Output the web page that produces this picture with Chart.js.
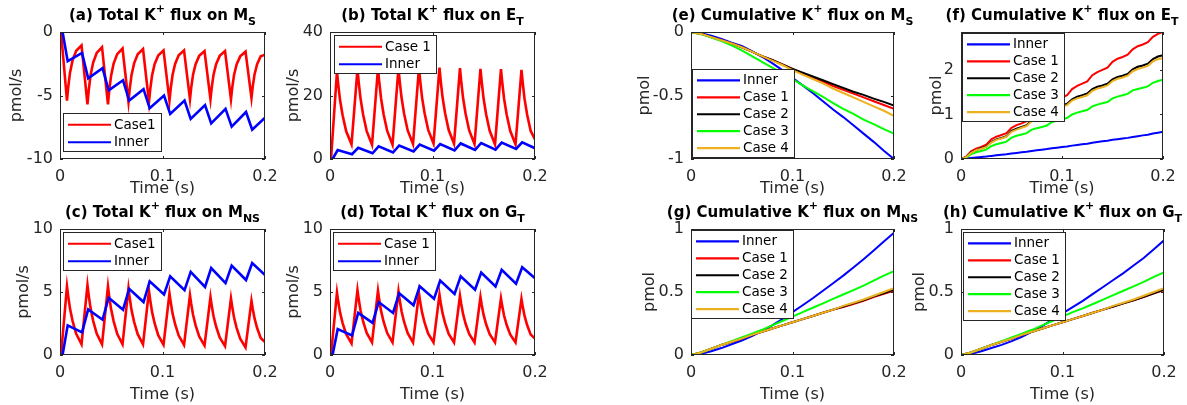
<!DOCTYPE html>
<html>
<head>
<meta charset="utf-8">
<script src="https://cdn.jsdelivr.net/npm/chart.js@4.4.1/dist/chart.umd.min.js"></script>
<style>
  body { margin: 0; background: #fff; }
  #fig { position: relative; width: 1187px; height: 405px; overflow: hidden; background: #fff; }
  #fig canvas { position: absolute; }
</style>
</head>
<body>
<div id="fig"></div>
<script>
// time bases (s)
var tSpike = [
  0, 0.001, 0.0068, 0.008, 0.0098, 0.0123, 0.0158,
  0.021, 0.0268, 0.028, 0.0298, 0.0323, 0.0358,
  0.041, 0.0468, 0.048, 0.0498, 0.0523, 0.0558,
  0.061, 0.0668, 0.068, 0.0698, 0.0723, 0.0758,
  0.081, 0.0868, 0.088, 0.0898, 0.0923, 0.0958,
  0.101, 0.1068, 0.108, 0.1098, 0.1123, 0.1158,
  0.121, 0.1268, 0.128, 0.1298, 0.1323, 0.1358,
  0.141, 0.1468, 0.148, 0.1498, 0.1523, 0.1558,
  0.161, 0.1668, 0.168, 0.1698, 0.1723, 0.1758,
  0.181, 0.1868, 0.188, 0.1898, 0.1923, 0.1958,
  0.2
];
var tSaw = [0, 0.0025, 0.0075, 0.0215, 0.0275, 0.0415, 0.0475, 0.0615, 0.0675, 0.0815, 0.0875,
  0.1015, 0.1075, 0.1215, 0.1275, 0.1415, 0.1475, 0.1615, 0.1675, 0.1815, 0.1875, 0.2];
var tCum = [0, 0.01, 0.02, 0.03, 0.04, 0.05, 0.06, 0.07, 0.08, 0.09, 0.1,
  0.11, 0.12, 0.13, 0.14, 0.15, 0.16, 0.17, 0.18, 0.19, 0.2];
var tCumFine = [0, 0.005, 0.01, 0.015, 0.02, 0.025, 0.03, 0.035, 0.04, 0.045, 0.05,
  0.055, 0.06, 0.065, 0.07, 0.075, 0.08, 0.085, 0.09, 0.095, 0.1,
  0.105, 0.11, 0.115, 0.12, 0.125, 0.13, 0.135, 0.14, 0.145, 0.15,
  0.155, 0.16, 0.165, 0.17, 0.175, 0.18, 0.185, 0.19, 0.195, 0.2];

// total flux (pmol/s)
var msCase1 = [
  0, 0, -5.4, -4.36, -3.18, -2.22, -1.48,
  -1.05, -5.7, -4.62, -3.41, -2.42, -1.65,
  -1.2, -5.7, -4.64, -3.46, -2.49, -1.74,
  -1.3, -5.5, -4.5, -3.38, -2.47, -1.76,
  -1.35, -5.5, -4.53, -3.43, -2.54, -1.85,
  -1.45, -5.4, -4.45, -3.39, -2.52, -1.84,
  -1.45, -5.3, -4.39, -3.36, -2.53, -1.88,
  -1.5, -5.3, -4.39, -3.36, -2.53, -1.88,
  -1.5, -5.3, -4.4, -3.39, -2.56, -1.92,
  -1.55, -5.2, -4.32, -3.34, -2.54, -1.91,
  -1.78
];
var msInner = [0, 0, -2.3, -1.65, -3.65, -2.85, -4.6, -3.8, -5.4, -4.5, -6.0, -5.0,
  -6.45, -5.4, -6.85, -5.75, -7.2, -6.05, -7.45, -6.3, -7.7, -6.75];

var etCase1 = [
  0, 0, 27.5, 23.61, 18.57, 13.76, 8.72,
  4.6, 28.3, 24.25, 19.02, 14.02, 8.78,
  4.5, 28.5, 24.42, 19.14, 14.1, 8.82,
  4.5, 28.6, 24.54, 19.28, 14.26, 9.0,
  4.7, 28.7, 24.65, 19.42, 14.42, 9.18,
  4.9, 28.8, 24.72, 19.44, 14.4, 9.12,
  4.8, 28.6, 24.54, 19.28, 14.26, 9.0,
  4.7, 28.4, 24.35, 19.12, 14.12, 8.88,
  4.6, 28.3, 24.27, 19.06, 14.08, 8.87,
  4.6, 28.1, 24.1, 18.93, 14.0, 8.83,
  6.2
];
var etInner = [0, 0, 2.8, 1.5, 3.5, 1.8, 4.0, 2.05, 4.25, 2.4, 4.55, 2.6,
  4.7, 2.7, 4.9, 2.85, 5.05, 2.95, 5.15, 3.15, 5.26, 3.4];

var nsCase1 = [
  0, 0, 5.45, 4.67, 3.66, 2.69, 1.68,
  0.85, 5.55, 4.75, 3.72, 2.73, 1.7,
  0.85, 5.45, 4.67, 3.66, 2.69, 1.68,
  0.85, 5.3, 4.54, 3.56, 2.63, 1.65,
  0.85, 5.1, 4.37, 3.42, 2.52, 1.57,
  0.8, 4.9, 4.2, 3.3, 2.44, 1.54,
  0.8, 4.75, 4.07, 3.19, 2.35, 1.47,
  0.75, 4.6, 3.94, 3.08, 2.26, 1.4,
  0.7, 4.5, 3.84, 2.98, 2.16, 1.3,
  0.6, 4.3, 3.69, 2.9, 2.14, 1.35,
  1.03
];
var nsInner = [0, 0, 2.35, 1.8, 3.62, 2.8, 4.55, 3.6, 5.25, 4.2, 5.85, 4.8,
  6.25, 5.15, 6.6, 5.4, 6.9, 5.7, 7.1, 5.95, 7.3, 6.35];

var gtCase1 = [
  0, 0, 4.95, 4.26, 3.38, 2.53, 1.65,
  0.92, 5.15, 4.44, 3.53, 2.66, 1.75,
  1.0, 5.1, 4.4, 3.5, 2.64, 1.74,
  1.0, 5.05, 4.36, 3.47, 2.62, 1.73,
  1.0, 4.9, 4.24, 3.38, 2.56, 1.7,
  1.0, 4.8, 4.15, 3.32, 2.52, 1.68,
  1.0, 4.7, 4.07, 3.26, 2.48, 1.67,
  1.0, 4.6, 3.99, 3.2, 2.44, 1.65,
  1.0, 4.5, 3.9, 3.13, 2.4, 1.63,
  1.0, 4.45, 3.86, 3.1, 2.38, 1.62,
  1.3
];
var gtInner = [0, 0, 2.05, 1.55, 3.34, 2.55, 4.2, 3.34, 4.9, 3.95, 5.45, 4.47,
  5.9, 4.84, 6.24, 5.18, 6.55, 5.45, 6.76, 5.66, 6.97, 6.1];

// cumulative flux (pmol)
var cumMsInner = [0, -0.01, -0.03, -0.055, -0.085, -0.11, -0.15, -0.195, -0.245, -0.3, -0.36,
  -0.42, -0.48, -0.545, -0.61, -0.67, -0.735, -0.8, -0.865, -0.935, -1.0];
var cumMsCase1 = [0, -0.015, -0.04, -0.065, -0.09, -0.12, -0.155, -0.19, -0.22, -0.255, -0.29,
  -0.325, -0.36, -0.39, -0.425, -0.455, -0.485, -0.515, -0.545, -0.575, -0.605];
var cumMsCase2 = [0, -0.015, -0.04, -0.065, -0.09, -0.12, -0.155, -0.19, -0.22, -0.255, -0.29,
  -0.32, -0.35, -0.38, -0.41, -0.44, -0.47, -0.495, -0.525, -0.55, -0.58];
var cumMsCase3 = [0, -0.017, -0.043, -0.072, -0.105, -0.145, -0.19, -0.235, -0.28, -0.325, -0.37,
  -0.42, -0.465, -0.51, -0.56, -0.605, -0.645, -0.69, -0.725, -0.765, -0.8];
var cumMsCase4 = [0, -0.015, -0.04, -0.065, -0.09, -0.12, -0.155, -0.19, -0.225, -0.26, -0.3,
  -0.335, -0.37, -0.405, -0.445, -0.48, -0.515, -0.55, -0.585, -0.62, -0.66];

var cumEtInner = [0, 0.009, 0.023, 0.034, 0.045, 0.055, 0.07, 0.082, 0.095, 0.106, 0.123,
  0.136, 0.15, 0.162, 0.18, 0.195, 0.21, 0.222, 0.24, 0.255, 0.27,
  0.282, 0.3, 0.315, 0.33, 0.344, 0.365, 0.383, 0.4, 0.412, 0.43,
  0.445, 0.46, 0.474, 0.495, 0.513, 0.53, 0.546, 0.57, 0.59, 0.61];
var cumEtCase1 = [0, 0.05, 0.17, 0.23, 0.27, 0.32, 0.44, 0.5, 0.54, 0.58, 0.7,
  0.76, 0.8, 0.85, 0.97, 1.04, 1.08, 1.13, 1.27, 1.34, 1.38,
  1.43, 1.57, 1.64, 1.69, 1.74, 1.88, 1.95, 2.0, 2.05, 2.18,
  2.25, 2.29, 2.34, 2.46, 2.53, 2.57, 2.62, 2.74, 2.81, 2.85];
var cumEtCase2 = [0, 0.04, 0.15, 0.2, 0.24, 0.28, 0.38, 0.44, 0.47, 0.51, 0.63,
  0.68, 0.72, 0.76, 0.87, 0.92, 0.96, 1.0, 1.11, 1.16, 1.2,
  1.24, 1.34, 1.4, 1.43, 1.47, 1.57, 1.62, 1.65, 1.69, 1.79,
  1.84, 1.87, 1.91, 2.01, 2.07, 2.1, 2.14, 2.24, 2.3, 2.33];
var cumEtCase3 = [0, 0.03, 0.11, 0.15, 0.18, 0.21, 0.29, 0.33, 0.36, 0.39, 0.48,
  0.52, 0.55, 0.58, 0.66, 0.69, 0.72, 0.75, 0.83, 0.86, 0.89,
  0.92, 1.0, 1.04, 1.07, 1.1, 1.18, 1.22, 1.25, 1.28, 1.36,
  1.4, 1.43, 1.46, 1.54, 1.57, 1.6, 1.63, 1.71, 1.75, 1.78];
var cumEtCase4 = [0, 0.04, 0.14, 0.2, 0.23, 0.27, 0.37, 0.43, 0.46, 0.5, 0.61,
  0.66, 0.7, 0.74, 0.85, 0.9, 0.94, 0.98, 1.08, 1.14, 1.17,
  1.21, 1.31, 1.36, 1.39, 1.43, 1.53, 1.58, 1.61, 1.65, 1.75,
  1.8, 1.83, 1.87, 1.97, 2.02, 2.05, 2.09, 2.19, 2.24, 2.27];

var cumNsInner = [0, 0.01, 0.03, 0.055, 0.085, 0.115, 0.15, 0.19, 0.235, 0.285, 0.34,
  0.395, 0.45, 0.51, 0.57, 0.63, 0.695, 0.76, 0.83, 0.9, 0.97];
var cumNsCase1 = [0, 0.02, 0.05, 0.08, 0.105, 0.13, 0.16, 0.185, 0.21, 0.235, 0.26,
  0.285, 0.31, 0.335, 0.36, 0.38, 0.405, 0.43, 0.46, 0.485, 0.51];
var cumNsCase2 = [0, 0.02, 0.05, 0.08, 0.105, 0.13, 0.16, 0.185, 0.21, 0.235, 0.26,
  0.285, 0.31, 0.335, 0.36, 0.385, 0.41, 0.435, 0.465, 0.49, 0.52];
var cumNsCase3 = [0, 0.02, 0.05, 0.08, 0.11, 0.14, 0.17, 0.2, 0.235, 0.27, 0.305,
  0.34, 0.375, 0.41, 0.445, 0.48, 0.515, 0.55, 0.59, 0.63, 0.665];
var cumNsCase4 = [0, 0.02, 0.05, 0.08, 0.105, 0.13, 0.16, 0.185, 0.21, 0.235, 0.26,
  0.285, 0.31, 0.335, 0.36, 0.39, 0.415, 0.44, 0.47, 0.5, 0.53];

var cumGtInner = [0, 0.01, 0.03, 0.055, 0.08, 0.11, 0.145, 0.185, 0.23, 0.28, 0.33,
  0.38, 0.43, 0.485, 0.54, 0.595, 0.65, 0.71, 0.77, 0.84, 0.91];
var cumGtCase1 = [0, 0.02, 0.05, 0.08, 0.105, 0.13, 0.16, 0.185, 0.21, 0.235, 0.26,
  0.285, 0.31, 0.335, 0.36, 0.385, 0.41, 0.435, 0.46, 0.49, 0.515];
var cumGtCase2 = [0, 0.02, 0.05, 0.08, 0.105, 0.13, 0.16, 0.185, 0.21, 0.235, 0.26,
  0.285, 0.31, 0.335, 0.36, 0.385, 0.41, 0.435, 0.462, 0.49, 0.52];
var cumGtCase3 = [0, 0.02, 0.05, 0.08, 0.11, 0.14, 0.17, 0.2, 0.235, 0.27, 0.305,
  0.34, 0.37, 0.405, 0.44, 0.475, 0.51, 0.545, 0.58, 0.62, 0.655];
var cumGtCase4 = [0, 0.02, 0.05, 0.08, 0.105, 0.13, 0.16, 0.185, 0.21, 0.235, 0.26,
  0.285, 0.31, 0.335, 0.36, 0.39, 0.415, 0.44, 0.47, 0.5, 0.53];

// tick labels
var timeTicks = [0, 0.1, 0.2];
var ticksMs = [-10, -5, 0];
var ticksEt = [0, 20, 40];
var ticksNs = [0, 5, 10];
var ticksGt = [0, 5, 10];
var ticksCumMs = [-1, -0.5, 0];
var ticksCumEt = [0, 1, 2];
var ticksCumNs = [0, 0.5, 1];
var ticksCumGt = [0, 0.5, 1];

// panel titles: [text, 0 normal | 1 superscript | -1 subscript]
var titleA = [['(a) Total K', 0], ['+', 1], [' flux on M', 0], ['S', -1]];
var titleB = [['(b) Total K', 0], ['+', 1], [' flux on E', 0], ['T', -1]];
var titleC = [['(c) Total K', 0], ['+', 1], [' flux on M', 0], ['NS', -1]];
var titleD = [['(d) Total K', 0], ['+', 1], [' flux on G', 0], ['T', -1]];
var titleE = [['(e) Cumulative K', 0], ['+', 1], [' flux on M', 0], ['S', -1]];
var titleF = [['(f) Cumulative K', 0], ['+', 1], [' flux on E', 0], ['T', -1]];
var titleG = [['(g) Cumulative K', 0], ['+', 1], [' flux on M', 0], ['NS', -1]];
var titleH = [['(h) Cumulative K', 0], ['+', 1], [' flux on G', 0], ['T', -1]];

var RED = '#ff0000', BLUE = '#0000ff', BLACK = '#000000', GREEN = '#00ff00', ORANGE = '#edb120';
var FONT = "'DejaVu Sans', sans-serif";
var AXIS = '#262626';
var TICK_PX = 16;
var PAD_RIGHT = 30;

function cumSeries(t, inner, c1, c2, c3, c4) {
  return [
    { label: 'Inner', color: BLUE, t: t, v: inner },
    { label: 'Case 1', color: RED, t: t, v: c1 },
    { label: 'Case 2', color: BLACK, t: t, v: c2 },
    { label: 'Case 3', color: GREEN, t: t, v: c3 },
    { label: 'Case 4', color: ORANGE, t: t, v: c4 }
  ];
}

var panels = [
  { area: [60, 32, 265, 159], yOff: 43, xH: 39, yMin: -10, yMax: 0, yTicks: ticksMs, yLabel: 'pmol/s',
    title: titleA, lw: 2.6, legend: { corner: 'sw', dx: 3, dy: 7 },
    series: [{ label: 'Case1', color: RED, t: tSpike, v: msCase1 }, { label: 'Inner', color: BLUE, t: tSaw, v: msInner }] },
  { area: [330, 32, 535, 159], yOff: 36, xH: 39, yMin: 0, yMax: 40, yTicks: ticksEt, yLabel: 'pmol/s',
    title: titleB, lw: 2.6, legend: { corner: 'nw', dx: 4, dy: 3 },
    series: [{ label: 'Case 1', color: RED, t: tSpike, v: etCase1 }, { label: 'Inner', color: BLUE, t: tSaw, v: etInner }] },
  { area: [60, 229, 265, 355], yOff: 36, xH: 49, yMin: 0, yMax: 10, yTicks: ticksNs, yLabel: 'pmol/s',
    title: titleC, lw: 2.6, legend: { corner: 'nw', dx: 3, dy: 3 },
    series: [{ label: 'Case1', color: RED, t: tSpike, v: nsCase1 }, { label: 'Inner', color: BLUE, t: tSaw, v: nsInner }] },
  { area: [330, 229, 535, 355], yOff: 36, xH: 49, yMin: 0, yMax: 10, yTicks: ticksGt, yLabel: 'pmol/s',
    title: titleD, lw: 2.6, legend: { corner: 'nw', dx: 3, dy: 3 },
    series: [{ label: 'Case 1', color: RED, t: tSpike, v: gtCase1 }, { label: 'Inner', color: BLUE, t: tSaw, v: gtInner }] },
  { area: [691, 32, 894, 159], yOff: 46, xH: 39, yMin: -1, yMax: 0, yTicks: ticksCumMs, yLabel: 'pmol',
    title: titleE, lw: 2, legend: { corner: 'sw', dx: 1, dy: 1 },
    series: cumSeries(tCum, cumMsInner, cumMsCase1, cumMsCase2, cumMsCase3, cumMsCase4) },
  { area: [961, 32, 1163, 159], yOff: 24, xH: 39, yMin: 0, yMax: 2.85, yTicks: ticksCumEt, yLabel: 'pmol',
    title: titleF, lw: 2, legend: { corner: 'nw', dx: 1, dy: 1 },
    series: cumSeries(tCumFine, cumEtInner, cumEtCase1, cumEtCase2, cumEtCase3, cumEtCase4) },
  { area: [691, 229, 894, 355], yOff: 41, xH: 49, yMin: 0, yMax: 1, yTicks: ticksCumNs, yLabel: 'pmol',
    title: titleG, lw: 2, legend: { corner: 'nw', dx: 0, dy: 1 },
    series: cumSeries(tCum, cumNsInner, cumNsCase1, cumNsCase2, cumNsCase3, cumNsCase4) },
  { area: [961, 229, 1164, 355], yOff: 41, xH: 49, yMin: 0, yMax: 1, yTicks: ticksCumGt, yLabel: 'pmol',
    title: titleH, lw: 2, legend: { corner: 'nw', dx: 2, dy: 3 },
    series: cumSeries(tCum, cumGtInner, cumGtCase1, cumGtCase2, cumGtCase3, cumGtCase4) }
];

// MATLAB-style frame, inward ticks, boxed legend and title with sub/superscripts
function matlabLook(p) {
  return {
    id: 'matlabLook',
    afterDatasetsDraw: function (chart) {
      var ctx = chart.ctx, a = chart.chartArea;
      var xs = chart.scales.x, ys = chart.scales.y;
      ctx.save();
      ctx.strokeStyle = AXIS;
      ctx.lineWidth = 1;
      ctx.strokeRect(a.left + 0.5, a.top + 0.5, a.right - a.left - 1, a.bottom - a.top - 1);
      ctx.beginPath();
      timeTicks.forEach(function (v) {
        var x = Math.round(xs.getPixelForValue(v)) + 0.5;
        ctx.moveTo(x, a.bottom); ctx.lineTo(x, a.bottom - 3);
        ctx.moveTo(x, a.top); ctx.lineTo(x, a.top + 3);
      });
      p.yTicks.forEach(function (v) {
        var y = Math.round(ys.getPixelForValue(v)) + 0.5;
        ctx.moveTo(a.left, y); ctx.lineTo(a.left + 3, y);
        ctx.moveTo(a.right, y); ctx.lineTo(a.right - 3, y);
      });
      ctx.stroke();

      // legend box
      ctx.font = '13.5px ' + FONT;
      var tw = 0;
      p.series.forEach(function (s) { tw = Math.max(tw, ctx.measureText(s.label).width); });
      var n = p.series.length;
      var rowH = n > 2 ? 16.9 : 17.5;
      var w = Math.round(51 + tw + 6), h = Math.round(rowH * n + 4);
      var lx = a.left + p.legend.dx;
      var ly = p.legend.corner === 'sw' ? a.bottom - p.legend.dy - h : a.top + p.legend.dy;
      ctx.fillStyle = '#fff';
      ctx.fillRect(lx, ly, w, h);
      ctx.strokeStyle = AXIS;
      ctx.strokeRect(lx + 0.5, ly + 0.5, w - 1, h - 1);
      ctx.textBaseline = 'middle';
      ctx.textAlign = 'left';
      p.series.forEach(function (s, i) {
        var cy = ly + 3 + rowH * (i + 0.5);
        ctx.strokeStyle = s.color;
        ctx.lineWidth = 2.2;
        ctx.beginPath();
        ctx.moveTo(lx + 5, cy); ctx.lineTo(lx + 48, cy);
        ctx.stroke();
        ctx.fillStyle = '#000';
        ctx.fillText(s.label, lx + 51, cy + 0.5);
      });
      ctx.restore();
    },
    afterDraw: function (chart) {
      var ctx = chart.ctx, a = chart.chartArea;
      var big = 'bold 15px ' + FONT, small = 'bold 11px ' + FONT;
      ctx.save();
      ctx.fillStyle = '#000';
      ctx.textBaseline = 'alphabetic';
      ctx.textAlign = 'left';
      var total = 0;
      p.title.forEach(function (seg) {
        ctx.font = seg[1] === 0 ? big : small;
        total += ctx.measureText(seg[0]).width;
      });
      var x = (a.left + a.right) / 2 - total / 2;
      var base = a.top - 12;
      p.title.forEach(function (seg) {
        ctx.font = seg[1] === 0 ? big : small;
        var dy = seg[1] === 1 ? -8.5 : (seg[1] === -1 ? 4.5 : 0);
        ctx.fillText(seg[0], x, base + dy);
        x += ctx.measureText(seg[0]).width;
      });
      ctx.restore();
    }
  };
}

Chart.defaults.font.family = FONT;
Chart.defaults.color = AXIS;

var fig = document.getElementById('fig');

panels.forEach(function (p) {
  var L = p.area[0], T = p.area[1], R = p.area[2], B = p.area[3];
  var W = p.yOff + 10;
  var cv = document.createElement('canvas');
  cv.width = W + (R - L) + PAD_RIGHT;
  cv.height = 32 + (B - T) + p.xH;
  cv.style.left = (L - W) + 'px';
  cv.style.top = (T - 32) + 'px';
  fig.appendChild(cv);

  var datasets = p.series.map(function (s, i) {
    return {
      label: s.label,
      data: s.t.map(function (t, k) { return { x: t, y: s.v[k] }; }),
      borderColor: s.color,
      backgroundColor: s.color,
      borderWidth: p.lw,
      pointRadius: 0,
      tension: 0,
      fill: false,
      order: -i
    };
  });

  new Chart(cv, {
    type: 'line',
    data: { datasets: datasets },
    options: {
      responsive: false,
      animation: false,
      devicePixelRatio: 1,
      events: [],
      layout: { padding: { left: 0, top: 32, right: PAD_RIGHT, bottom: 0 }, autoPadding: false },
      plugins: { legend: { display: false }, tooltip: { enabled: false }, title: { display: false } },
      scales: {
        x: {
          type: 'linear', min: 0, max: 0.2,
          grid: { display: false, drawTicks: false },
          border: { display: false },
          afterBuildTicks: function (s) { s.ticks = timeTicks.map(function (v) { return { value: v }; }); },
          afterFit: function (s) { s.height = p.xH; },
          ticks: { autoSkip: false, maxRotation: 0, padding: 8.5, font: { size: TICK_PX }, color: AXIS,
            callback: function (v) { return String(v); } },
          title: { display: true, text: 'Time (s)', font: { size: TICK_PX }, color: AXIS, padding: 0 }
        },
        y: {
          type: 'linear', min: p.yMin, max: p.yMax,
          grid: { display: false, drawTicks: false },
          border: { display: false },
          afterBuildTicks: function (s) { s.ticks = p.yTicks.map(function (v) { return { value: v }; }); },
          afterFit: function (s) { s.width = W; },
          ticks: { autoSkip: false, padding: 7, font: { size: TICK_PX }, color: AXIS,
            callback: function (v) { return String(v); } },
          title: { display: true, text: p.yLabel, font: { size: TICK_PX }, color: AXIS, padding: 0 }
        }
      }
    },
    plugins: [matlabLook(p)]
  });
});
</script>
</body>
</html>
